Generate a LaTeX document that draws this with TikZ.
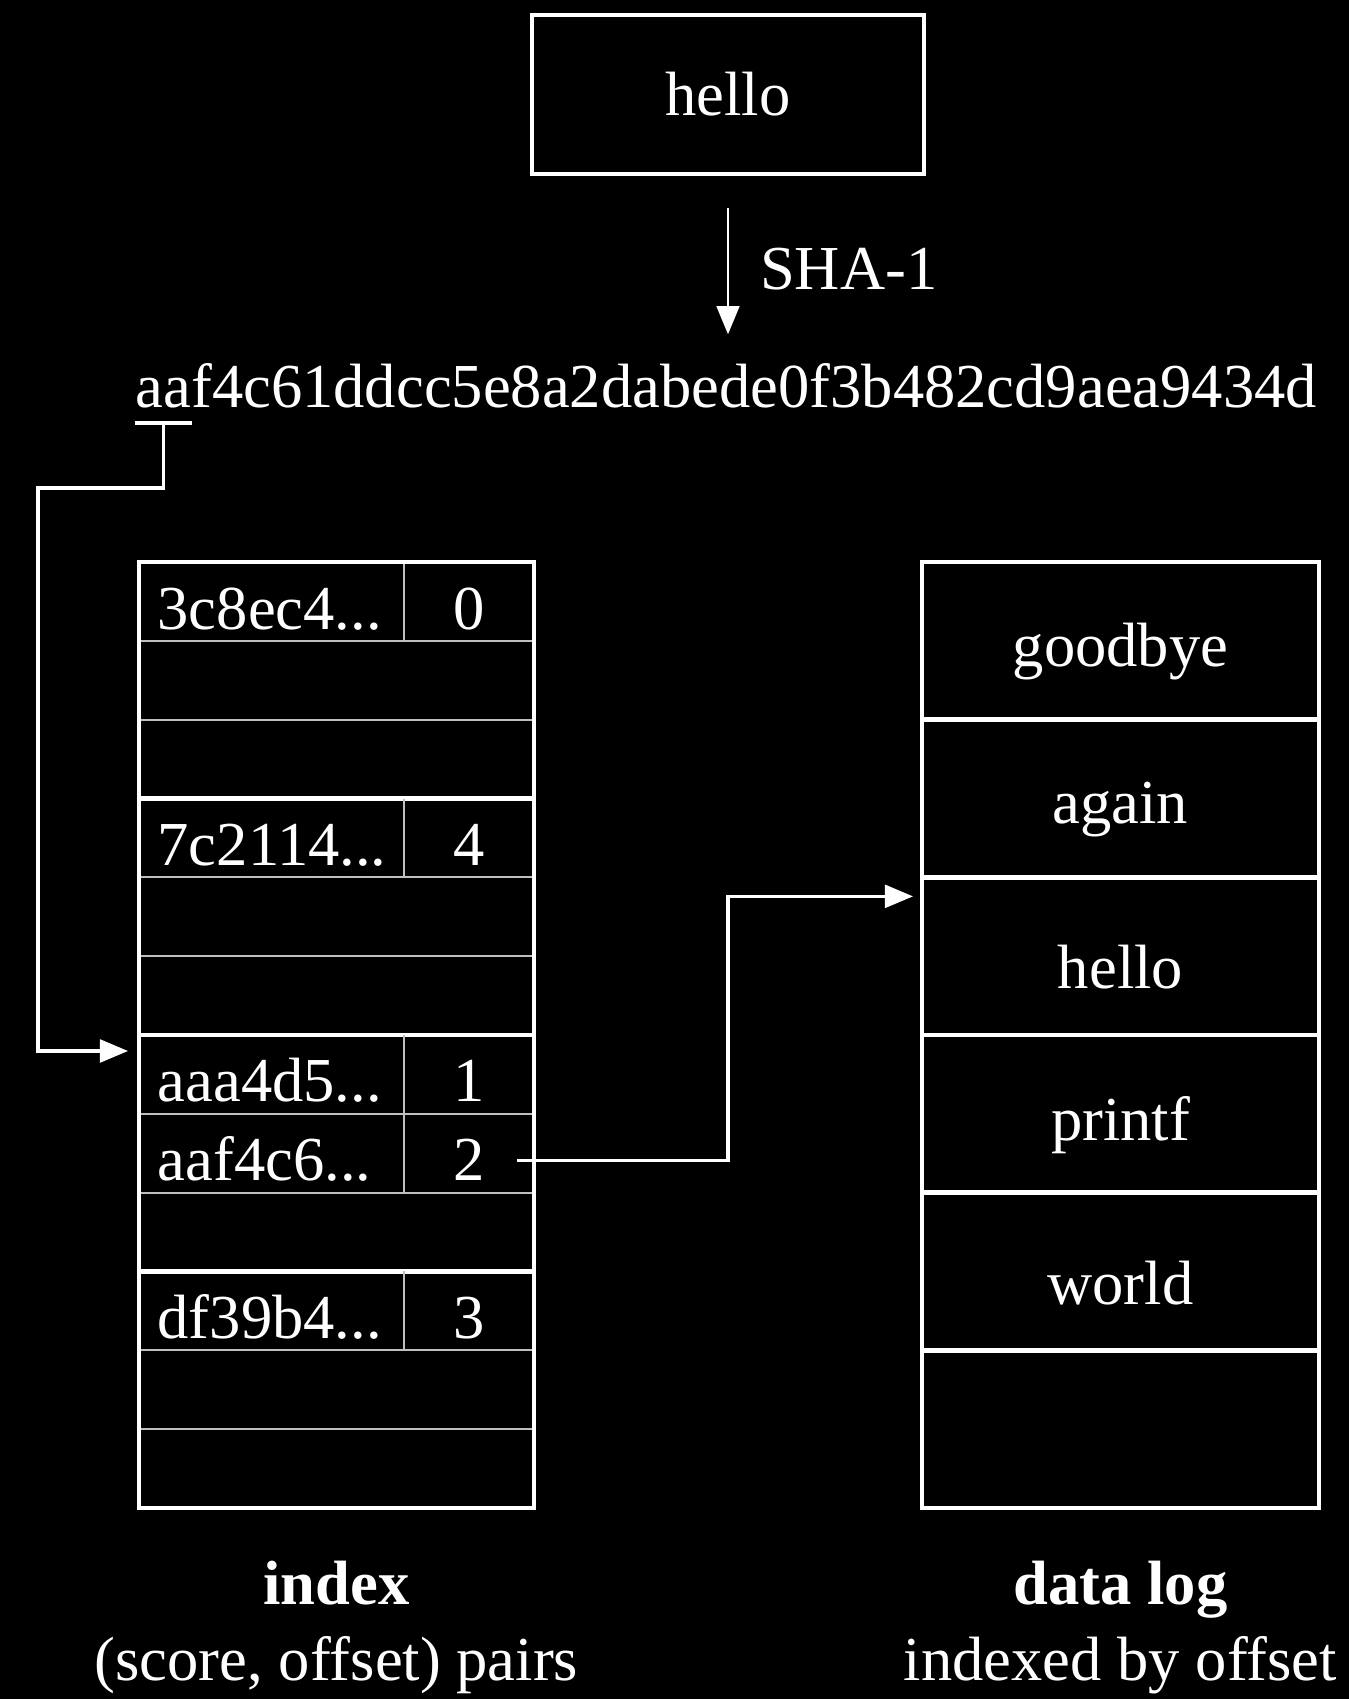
\documentclass[tikz,border=0pt]{standalone}
\usepackage{fontspec}
\setmainfont{Liberation Serif}
\usetikzlibrary{arrows.meta, positioning, calc}

\newcommand{\hashdots}{.\kern0pt.\kern0pt.}

\begin{document}
\begin{tikzpicture}[
    >={Triangle[length=8pt, width=6.5pt]}, % Set default arrow tip style
    every node/.style={text=white, font=\fontsize{17.8}{21.5}\selectfont}, % White serif text
    box/.style={draw=white, line width=1.4pt}, % Style for outer boxes
    thinrule/.style={draw=white!75!black, line width=0.6pt}, % Style for plain row lines
    thickrule/.style={draw=white, line width=1.4pt}, % Style for group lines
    link/.style={->, draw=white, line width=0.9pt}, % Style for connectors
    cell/.style={inner sep=0pt} % Style for table entries
]

    % Background and page size
    \fill[black] (0,0) rectangle (13.49,-16.99);
    \useasboundingbox (0,0) rectangle (13.49,-16.99);

    % --- Key and its hash ---
    \node[box, minimum width=3.92cm, minimum height=1.59cm] (key) at (7.28,-0.945) {hello};
    \node[cell, anchor=base west] (hash) at (1.35,-4.07) {aaf4c61ddcc5e8a2dabede0f3b482cd9aea9434d};

    \draw[->, draw=white, line width=0.6pt, shorten <=0.32cm, shorten >=0.28cm]
        (key.south) -- (key.south |- hash.north) node[midway, right=0.31cm, cell] (sha) {SHA-1};

    % Underline of the first two characters
    \coordinate (ul1) at ($(hash.base west)+(0,-0.16)$);
    \coordinate (ul2) at ($(ul1)+(0.57,0)$);
    \coordinate (ulmid) at ($(ul1)!0.5!(ul2)$);
    \draw[draw=white, line width=0.9pt] (ul1) -- (ul2);

    % --- Index (score, offset) pairs ---
    \begin{scope}[shift={(1.39,-5.62)}]
        % Row lines
        \foreach \r in {1,...,11}
            \draw[thinrule] (0,-\r*0.7883) -- (3.95,-\r*0.7883);
        % Group lines
        \foreach \r in {3,6,9}
            \draw[thickrule] (0,-\r*0.7883) -- (3.95,-\r*0.7883);
        % Column dividers of the filled rows
        \foreach \r in {0,3,6,7,9}
            \draw[thinrule] (2.65,-\r*0.7883) -- (2.65,-\r*0.7883-0.7883);
        \draw[box] (0,0) rectangle (3.95,-9.46);

        % Entries
        \foreach \r/\k/\o in {0/3c8ec4/0, 3/7c2114/4, 6/aaa4d5/1, 7/aaf4c6/2, 9/df39b4/3} {
            \node[cell, anchor=base west] (score\r) at (0.18,-\r*0.7883-0.67) {\k\hashdots};
            \node[cell, anchor=base] (off\r) at (3.30,-\r*0.7883-0.67) {\o};
        }
        \coordinate (slot6) at (0,-6*0.7883-0.16);
    \end{scope}

    % --- Data log ---
    \begin{scope}[shift={(9.22,-5.62)}]
        \foreach \r in {1,...,5}
            \draw[thickrule] (0,-\r*1.5767) -- (3.97,-\r*1.5767);
        \draw[box] (0,0) rectangle (3.97,-9.46);

        \foreach \r/\w in {0/goodbye, 1/again, 2/hello, 3/printf, 4/world}
            \node[cell] (rec\r) at (1.985,-\r*1.5767-0.9) {\w};
        \coordinate (slot2) at (0,-2*1.5767-0.19);
    \end{scope}

    % --- Connectors ---
    \coordinate (bendL) at (0.38,-4.88);
    \draw[link, shorten >=0.11cm] (ulmid) |- (bendL) |- (slot6);

    \coordinate (from2) at ($(off7.east)+(0.32,0)$);
    \draw[link, shorten >=0.09cm] (from2) -| ([xshift=-1.94cm]slot2) -- (slot2);

    % --- Captions ---
    \node[cell, anchor=base] (idxtitle) at (3.365,-16.04) {\textbf{index}};
    \node[cell, anchor=base] (idxnote) at ([yshift=-0.76cm]idxtitle.base) {(score, offset) pairs};
    \node[cell, anchor=base] (logtitle) at (11.205,-16.04) {\textbf{data log}};
    \node[cell, anchor=base] (lognote) at ([yshift=-0.76cm]logtitle.base) {indexed by offset};

\end{tikzpicture}
\end{document}
